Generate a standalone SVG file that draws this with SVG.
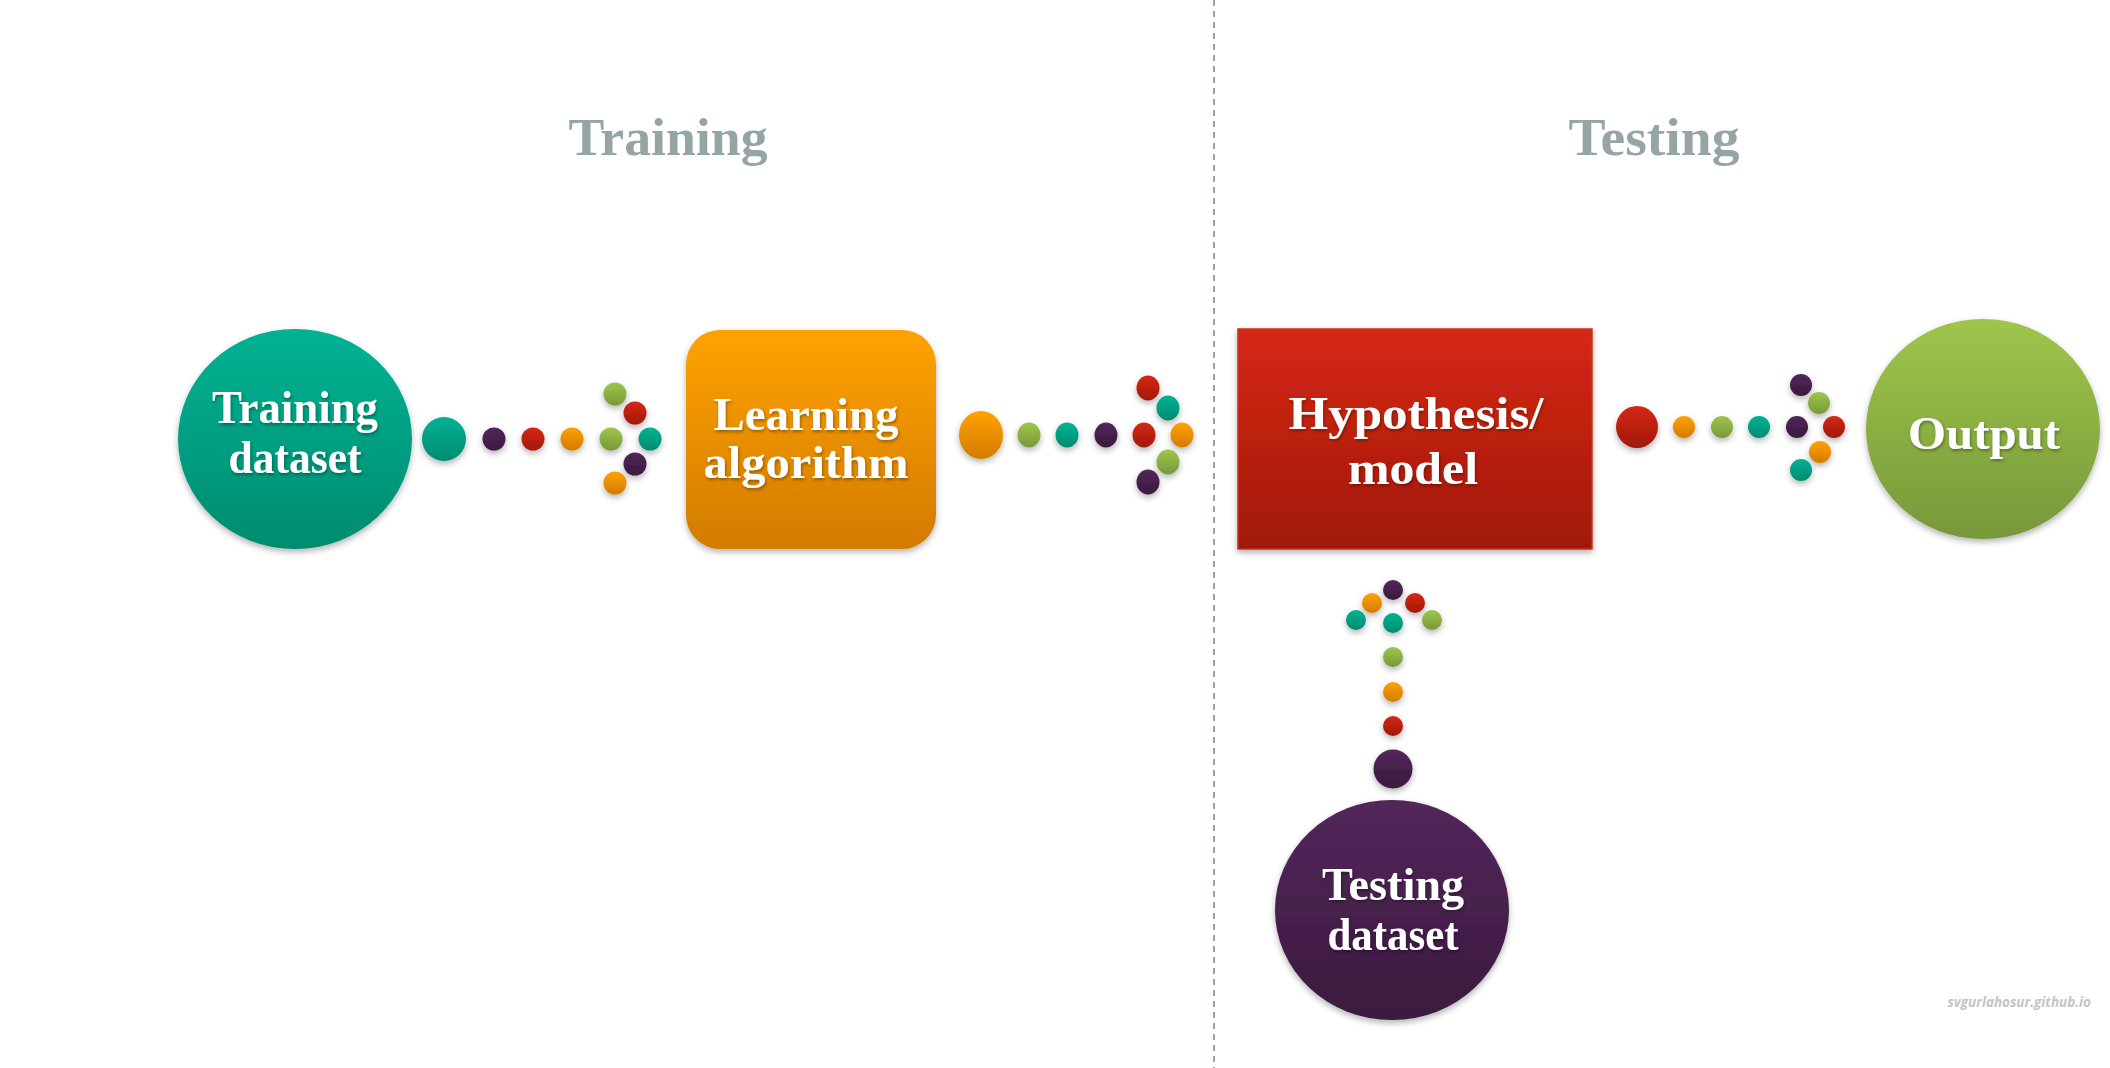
<svg xmlns="http://www.w3.org/2000/svg" width="2110" height="1068" viewBox="0 0 2110 1068">
  <defs>
    <linearGradient id="gTeal" x1="0" y1="0" x2="0" y2="1"><stop offset="0" stop-color="#05B393"/><stop offset="1" stop-color="#008B6F"/></linearGradient>
    <linearGradient id="gOrange" x1="0" y1="0" x2="0" y2="1"><stop offset="0" stop-color="#FFA200"/><stop offset="1" stop-color="#D27B00"/></linearGradient>
    <linearGradient id="gRed" x1="0" y1="0" x2="0" y2="1"><stop offset="0" stop-color="#D62714"/><stop offset="1" stop-color="#A0190C"/></linearGradient>
    <linearGradient id="gGreen" x1="0" y1="0" x2="0" y2="1"><stop offset="0" stop-color="#9EC64B"/><stop offset="1" stop-color="#77983A"/></linearGradient>
    <linearGradient id="gPurple" x1="0" y1="0" x2="0" y2="1"><stop offset="0" stop-color="#52265A"/><stop offset="1" stop-color="#3A1A3E"/></linearGradient>
    <filter id="sh" x="-30%" y="-30%" width="160%" height="170%">
      <feDropShadow dx="0" dy="3" stdDeviation="3" flood-color="#000" flood-opacity="0.3"/>
    </filter>
    <filter id="tsh" x="-10%" y="-20%" width="120%" height="150%">
      <feDropShadow dx="1" dy="2" stdDeviation="1.5" flood-color="#000" flood-opacity="0.35"/>
    </filter>
  </defs>
  <style>
    .title { font-family: "Liberation Serif", "DejaVu Serif", serif; font-weight: bold; font-size: 52px; fill: #95A5A6; text-anchor: middle; }
    .lbl { font-family: "Liberation Serif", "DejaVu Serif", serif; font-weight: bold; font-size: 47px; fill: #FFFFFF; text-anchor: middle; filter: url(#tsh); }
    .teal { fill: url(#gTeal); }
    .orange { fill: url(#gOrange); }
    .red { fill: url(#gRed); }
    .green { fill: url(#gGreen); }
    .purple { fill: url(#gPurple); }
    .dot { filter: url(#sh); }
    .node { filter: url(#sh); }
    .divider { stroke: #95A5A6; stroke-width: 2; stroke-dasharray: 6 5; fill: none; }
    .wm { font-family: "Open Sans", "Liberation Sans", sans-serif; font-style: italic; font-weight: bold; font-size: 13.5px; fill: #C4C4C4; text-anchor: end; }
  </style>
  <rect width="2110" height="1068" fill="#FFFFFF"/>

  <line class="divider" x1="1214" y1="0" x2="1214" y2="1068"/>

  <text class="title" x="668" y="155" textLength="199" lengthAdjust="spacingAndGlyphs">Training</text>
  <text class="title" x="1654" y="155" textLength="171" lengthAdjust="spacingAndGlyphs">Testing</text>

  <g id="training-dataset">
    <ellipse class="node teal" cx="295" cy="439" rx="117" ry="110"/>
    <text class="lbl" x="295" y="423" textLength="166" lengthAdjust="spacingAndGlyphs">Training</text>
    <text class="lbl" x="295" y="473" textLength="133" lengthAdjust="spacingAndGlyphs">dataset</text>
  </g>

  <g id="learning-algorithm">
    <rect class="node orange" x="686" y="330" width="250" height="219" rx="34" ry="34"/>
    <text class="lbl" x="806" y="430" textLength="185" lengthAdjust="spacingAndGlyphs">Learning</text>
    <text class="lbl" x="806" y="478" textLength="205" lengthAdjust="spacingAndGlyphs">algorithm</text>
  </g>

  <g id="hypothesis-model">
    <rect class="node red" x="1238" y="329" width="354" height="220" stroke="#C9301E" stroke-width="1.5"/>
    <text class="lbl" x="1416" y="429" textLength="255" lengthAdjust="spacingAndGlyphs">Hypothesis/</text>
    <text class="lbl" x="1413" y="484" textLength="130" lengthAdjust="spacingAndGlyphs">model</text>
  </g>

  <g id="output">
    <ellipse class="node green" cx="1983" cy="429" rx="117" ry="110"/>
    <text class="lbl" x="1984" y="449" textLength="152" lengthAdjust="spacingAndGlyphs">Output</text>
  </g>

  <g id="testing-dataset">
    <ellipse class="node purple" cx="1392" cy="910" rx="117" ry="110"/>
    <text class="lbl" x="1393" y="900" textLength="142" lengthAdjust="spacingAndGlyphs">Testing</text>
    <text class="lbl" x="1393" y="950" textLength="131" lengthAdjust="spacingAndGlyphs">dataset</text>
  </g>

  <g id="connectors">
    <g id="conn-training-learning">
      <circle class="dot teal" cx="444" cy="439" r="22"/>
      <circle class="dot purple" cx="494" cy="439" r="11.5"/>
      <circle class="dot red" cx="533" cy="439" r="11.5"/>
      <circle class="dot orange" cx="572" cy="439" r="11.5"/>
      <circle class="dot green" cx="611" cy="439" r="11.5"/>
      <circle class="dot teal" cx="650" cy="439" r="11.5"/>
      <circle class="dot green" cx="615" cy="394" r="11.5"/>
      <circle class="dot red" cx="635" cy="413" r="11.5"/>
      <circle class="dot purple" cx="635" cy="464" r="11.5"/>
      <circle class="dot orange" cx="615" cy="483" r="11.5"/>
    </g>
    <g id="conn-learning-hypothesis">
      <ellipse class="dot orange" cx="981" cy="435" rx="22" ry="24"/>
      <ellipse class="dot green" cx="1029" cy="435" rx="11.5" ry="12.5"/>
      <ellipse class="dot teal" cx="1067" cy="435" rx="11.5" ry="12.5"/>
      <ellipse class="dot purple" cx="1106" cy="435" rx="11.5" ry="12.5"/>
      <ellipse class="dot red" cx="1144" cy="435" rx="11.5" ry="12.5"/>
      <ellipse class="dot orange" cx="1182" cy="435" rx="11.5" ry="12.5"/>
      <ellipse class="dot red" cx="1148" cy="388" rx="11.5" ry="12.5"/>
      <ellipse class="dot teal" cx="1168" cy="408" rx="11.5" ry="12.5"/>
      <ellipse class="dot green" cx="1168" cy="462" rx="11.5" ry="12.5"/>
      <ellipse class="dot purple" cx="1148" cy="482" rx="11.5" ry="12.5"/>
    </g>
    <g id="conn-hypothesis-output">
      <circle class="dot red" cx="1637" cy="427" r="21"/>
      <circle class="dot orange" cx="1684" cy="427" r="11"/>
      <circle class="dot green" cx="1722" cy="427" r="11"/>
      <circle class="dot teal" cx="1759" cy="427" r="11"/>
      <circle class="dot purple" cx="1797" cy="427" r="11"/>
      <circle class="dot red" cx="1834" cy="427" r="11"/>
      <circle class="dot purple" cx="1801" cy="385" r="11"/>
      <circle class="dot green" cx="1819" cy="403" r="11"/>
      <circle class="dot orange" cx="1820" cy="452" r="11"/>
      <circle class="dot teal" cx="1801" cy="470" r="11"/>
    </g>
    <g id="conn-testing-hypothesis">
      <circle class="dot purple" cx="1393" cy="769" r="19.5"/>
      <circle class="dot red" cx="1393" cy="726" r="10"/>
      <circle class="dot orange" cx="1393" cy="692" r="10"/>
      <circle class="dot green" cx="1393" cy="657" r="10"/>
      <circle class="dot teal" cx="1393" cy="623" r="10"/>
      <circle class="dot purple" cx="1393" cy="590" r="10"/>
      <circle class="dot orange" cx="1372" cy="603" r="10"/>
      <circle class="dot red" cx="1415" cy="603" r="10"/>
      <circle class="dot teal" cx="1356" cy="620" r="10"/>
      <circle class="dot green" cx="1432" cy="620" r="10"/>
    </g>
  </g>

  <text class="wm" x="2091" y="1007">svgurlahosur.github.io</text>
</svg>
